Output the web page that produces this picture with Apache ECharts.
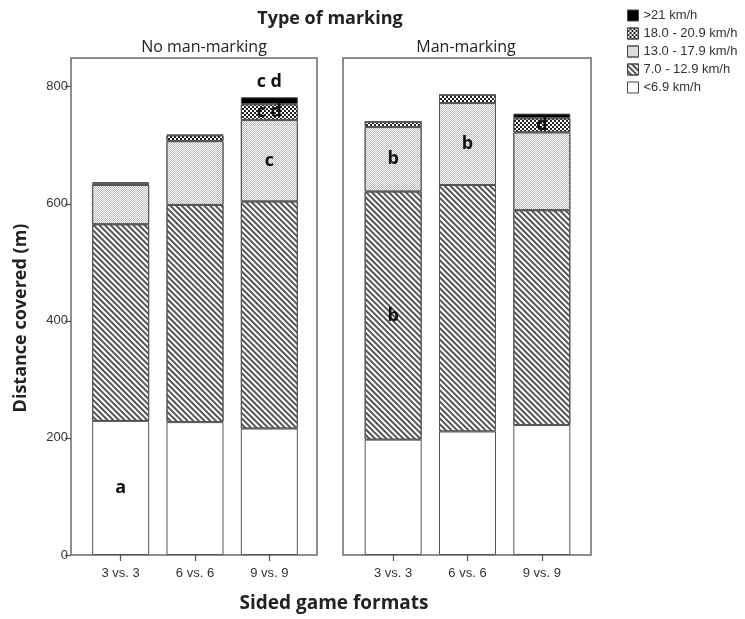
<!DOCTYPE html>
<html>
<head>
<meta charset="utf-8">
<script src="https://cdn.jsdelivr.net/npm/echarts@6/dist/echarts.min.js"></script>
<style>html,body{margin:0;padding:0;background:#fff;}#c{width:745px;height:619px;}</style>
</head>
<body>
<div id="c"></div>
<script>
const categories = ['3 vs. 3', '6 vs. 6', '9 vs. 9'];
const layerNames = ['<6.9 km/h', '7.0 - 12.9 km/h', '13.0 - 17.9 km/h', '18.0 - 20.9 km/h', '>21 km/h'];
const legendOrder = ['>21 km/h', '18.0 - 20.9 km/h', '13.0 - 17.9 km/h', '7.0 - 12.9 km/h', '<6.9 km/h'];
const yTicks = [0, 200, 400, 600, 800];

// No man-marking panel
const noManWalk = [229, 227, 216];
const noManJog = [336, 371, 388];
const noManRun = [67, 109, 139];
const noManHigh = [2, 10, 27];
const noManSprint = [3, 1, 12];
// Man-marking panel
const manWalk = [197, 211, 222];
const manJog = [424, 421, 367];
const manRun = [110, 140, 133];
const manHigh = [9, 14, 24];
const manSprint = [0, 0, 8];

// Significance letters per layer
const noManLetters = [['a', '', ''], ['', '', ''], ['', '', 'c'], ['', '', 'c d'], ['', '', 'c d']];
const manLetters = [['', '', ''], ['b', '', ''], ['b', 'b', ''], ['', '', 'd'], ['', '', '']];

const panelTitles = ['No man-marking', 'Man-marking'];

const panels = [
  [noManWalk, noManJog, noManRun, noManHigh, noManSprint],
  [manWalk, manJog, manRun, manHigh, manSprint]
];
const panelLetters = [noManLetters, manLetters];

const layerStyles = [
  { color: '#ffffff' },
  { color: '#ffffff', decal: { symbol: 'rect', symbolSize: 1, color: '#555', dashArrayX: [[1, 0]], dashArrayY: [2, 2], rotation: Math.PI / 4 } },
  { color: '#ffffff', decal: { symbol: 'rect', symbolSize: 1, color: '#b8b8b8', dashArrayX: [[1, 1], [0, 1, 1, 0]], dashArrayY: [1, 0] } },
  { color: '#ffffff', decal: { symbol: 'rect', symbolSize: 1, color: '#222', dashArrayX: [[2, 2], [0, 2, 2, 0]], dashArrayY: [2, 0] } },
  { color: '#000000' }
];

const YMAX = 849;
const font = 'Liberation Sans, Arial, sans-serif';
const titleFont = '"Open Sans", Lato, sans-serif';

const series = [];
panels.forEach((layers, p) => {
  layers.forEach((vals, i) => {
    const letters = panelLetters[p][i];
    series.push({
      type: 'bar',
      name: layerNames[i],
      xAxisIndex: 2 + p,
      yAxisIndex: 2 + p,
      stack: 'panel' + p,
      barWidth: 57,
      data: vals,
      itemStyle: Object.assign({ borderColor: '#555', borderWidth: 1 }, layerStyles[i]),
      label: {
        show: true,
        position: (i === 4) ? 'top' : 'inside',
        distance: 6,
        color: '#111',
        fontFamily: titleFont,
        fontWeight: 'bold',
        fontSize: 18,
        formatter: (prm) => letters[prm.dataIndex]
      },
      emphasis: { disabled: true },
      animation: false
    });
  });
});

const frameGrid = (left, width) => ({ left: left, top: 58, width: width, height: 497, show: true, borderColor: '#6a6a6a', borderWidth: 1.5, backgroundColor: 'transparent' });
const innerGrid = (left) => ({ left: left, top: 58, width: 223, height: 497 });

const chart = echarts.init(document.getElementById('c'), null, { renderer: 'canvas' });
chart.setOption({
  animation: false,
  backgroundColor: '#ffffff',
  grid: [frameGrid(71, 246), frameGrid(343, 248), innerGrid(83.5), innerGrid(356)],
  xAxis: [
    { gridIndex: 0, type: 'category', data: [], show: false },
    { gridIndex: 1, type: 'category', data: [], show: false },
    {
      gridIndex: 2, type: 'category', data: categories,
      axisLine: { show: false },
      axisTick: { show: true, alignWithLabel: true, length: 6, lineStyle: { color: '#555', width: 1.2 } },
      axisLabel: { color: '#333', fontFamily: font, fontSize: 13, margin: 12 }
    },
    {
      gridIndex: 3, type: 'category', data: categories,
      axisLine: { show: false },
      axisTick: { show: true, alignWithLabel: true, length: 6, lineStyle: { color: '#555', width: 1.2 } },
      axisLabel: { color: '#333', fontFamily: font, fontSize: 13, margin: 12 }
    }
  ],
  yAxis: [
    {
      gridIndex: 0, type: 'value', min: 0, max: YMAX, interval: 200,
      axisLine: { show: false },
      axisTick: { show: true, length: 6, customValues: yTicks, lineStyle: { color: '#555', width: 1.2 } },
      axisLabel: { color: '#333', fontFamily: font, fontSize: 13, margin: 3, customValues: yTicks },
      splitLine: { show: false }
    },
    { gridIndex: 1, type: 'value', min: 0, max: YMAX, show: false, splitLine: { show: false } },
    { gridIndex: 2, type: 'value', min: 0, max: YMAX, show: false, splitLine: { show: false } },
    { gridIndex: 3, type: 'value', min: 0, max: YMAX, show: false, splitLine: { show: false } }
  ],
  legend: {
    orient: 'vertical',
    left: 622,
    top: 4,
    itemWidth: 11,
    itemHeight: 11,
    itemGap: 5,
    icon: 'rect',
    data: legendOrder,
    selectedMode: false,
    textStyle: { fontFamily: font, fontSize: 13, color: '#333', padding: [0, 0, 0, 0] },
    itemStyle: { borderColor: '#444', borderWidth: 1 }
  },
  graphic: [
    { type: 'text', x: 330, y: 19, style: { text: 'Type of marking', font: 'bold 18px ' + titleFont, fill: '#222', textAlign: 'center', textVerticalAlign: 'middle' } },
    { type: 'text', x: 204, y: 47, style: { text: panelTitles[0], font: '16px ' + titleFont, fill: '#222', textAlign: 'center', textVerticalAlign: 'middle' } },
    { type: 'text', x: 466, y: 47, style: { text: panelTitles[1], font: '16px ' + titleFont, fill: '#222', textAlign: 'center', textVerticalAlign: 'middle' } },
    { type: 'text', x: 334, y: 604, style: { text: 'Sided game formats', font: 'bold 19px ' + titleFont, fill: '#222', textAlign: 'center', textVerticalAlign: 'middle' } },
    { type: 'text', x: 21, y: 318, rotation: Math.PI / 2, style: { text: 'Distance covered (m)', font: 'bold 18px ' + titleFont, fill: '#222', textAlign: 'center', textVerticalAlign: 'middle' } }
  ],
  series: series
});
</script>
</body>
</html>
